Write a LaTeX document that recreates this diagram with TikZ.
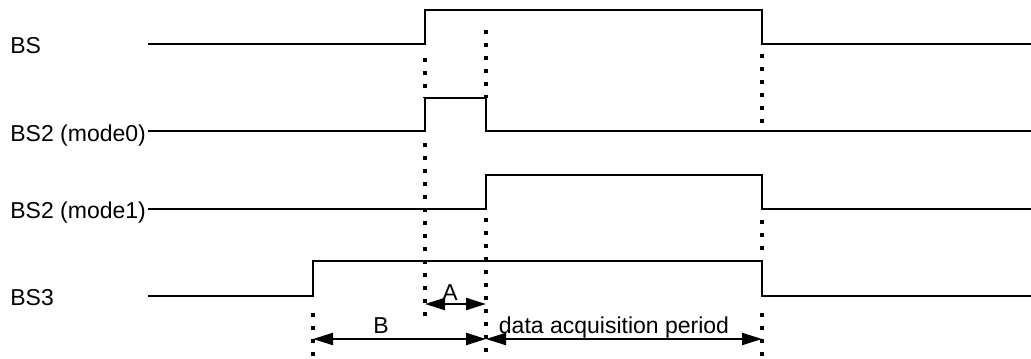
\documentclass[tikz,border=0pt]{standalone}
\usepackage{fontspec}
\setmainfont{Liberation Sans}
\usetikzlibrary{positioning,arrows.meta}

\begin{document}
\begin{tikzpicture}[x=0.5pt,y=-0.5pt,font=\fontsize{11.5}{13}\selectfont,
    sig/.style={line width=1.1pt},
    guide/.style={line width=1.6pt,dash pattern=on 2pt off 4.5pt},
    span/.style={line width=1.1pt,{Triangle[length=10pt,width=6pt]}-{Triangle[length=10pt,width=6pt]}}]
    \useasboundingbox (0,0) rectangle (1031,358);
    % Define nodes
    \node (lblBS)  [anchor=base west,inner sep=0] at (10,54)  {BS};
    \node (lblBSa) [anchor=base west,inner sep=0] at (10,141) {BS2 (mode0)};
    \node (lblBSb) [anchor=base west,inner sep=0] at (10,218) {BS2 (mode1)};
    \node (lblBSc) [anchor=base west,inner sep=0] at (10,305) {BS3};

    \coordinate (A0) at (425,304);
    \coordinate (A1) at (486,304);
    \coordinate (B0) at (313,339);
    \coordinate (B1) at (486,339);
    \coordinate (P1) at (762,339);

    \node (lblA) [anchor=base] at (450,300) {A};
    \node (lblB) [anchor=base] at (381,333) {B};
    \node (lblP) [anchor=base] at (614,333) {data acquisition period};

    % Draw signals
    \draw[sig] (148,44)  -- (425,44)  -- (425,10)  -- (762,10)  -- (762,44)  -- (1031,44);
    \draw[sig] (148,131) -- (425,131) -- (425,98)  -- (486,98)  -- (486,131) -- (1031,131);
    \draw[sig] (148,209) -- (486,209) -- (486,175) -- (762,175) -- (762,209) -- (1031,209);
    \draw[sig] (148,296) -- (313,296) -- (313,261) -- (762,261) -- (762,296) -- (1031,296);

    % Draw guides
    \draw[guide] (425,58)  -- (425,98);
    \draw[guide] (425,143) -- (425,322);
    \draw[guide] (486,30)  -- (486,98);
    \draw[guide] (486,218) -- (486,358);
    \draw[guide] (762,54)  -- (762,124);
    \draw[guide] (762,220) -- (762,252);
    \draw[guide] (762,313) -- (762,358);
    \draw[guide] (313,313) -- (313,358);

    % Draw arrows
    \draw[span] (A0) -- (A1);
    \draw[span] (B0) -- (B1);
    \draw[span] (B1) -- (P1);
\end{tikzpicture}
\end{document}
